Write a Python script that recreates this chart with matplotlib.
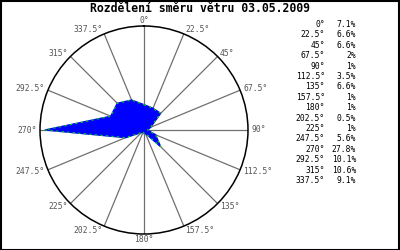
import numpy as np
import matplotlib
matplotlib.use("Agg")
import matplotlib.pyplot as plt
from matplotlib.patches import Rectangle

directions = [0, 22.5, 45, 67.5, 90, 112.5, 135, 157.5,
              180, 202.5, 225, 247.5, 270, 292.5, 315, 337.5]
dir_labels = ["0°", "22.5°", "45°", "67.5°", "90°", "112.5°", "135°", "157.5°",
              "180°", "202.5°", "225°", "247.5°", "270°", "292.5°", "315°", "337.5°"]
freq = [7.1, 6.6, 6.6, 2, 1, 3.5, 6.6, 1, 1, 0.5, 1, 5.6, 27.8, 10.1, 10.6, 9.1]
freq_labels = ["7.1%", "6.6%", "6.6%", "2%", "1%", "3.5%", "6.6%", "1%",
               "1%", "0.5%", "1%", "5.6%", "27.8%", "10.1%", "10.6%", "9.1%"]
title = "Rozdělení směru větru 03.05.2009"

W, H = 400, 250
fig = plt.figure(figsize=(4, 2.5), dpi=100)
fig.patch.set_facecolor("white")

# polar area: center (144,130) px from top-left, radius 104 px
cx, cy, R = 144, 130, 104
ax = fig.add_axes([(cx - R) / W, (H - cy - R) / H, 2 * R / W, 2 * R / H],
                  projection="polar")
ax.set_theta_zero_location("N")
ax.set_theta_direction(-1)
rmax = max(freq) * 1.05
ax.set_ylim(0, rmax)
ax.set_yticks([])
theta = np.deg2rad(directions)
ax.set_xticks(theta)
ax.set_xticklabels([])
ax.tick_params(length=0)
ax.grid(True, color="#707070", linewidth=0.9)
ax.yaxis.grid(False)
ax.spines["polar"].set_color("black")
ax.spines["polar"].set_linewidth(1.1)

tt = np.append(theta, theta[0])
rr = np.append(freq, freq[0])
ax.fill(tt, rr, color="#0000ff", zorder=3)
ax.plot(tt, rr, color="#00dd00", linestyle=(0, (2, 3)), linewidth=0.8, zorder=4)

mono = "DejaVu Sans Mono"
for th, lab in zip(theta, dir_labels):
    s, c = np.sin(th), np.cos(th)
    if abs(s) < 1e-6:
        ha = "center"
        va = "bottom" if c > 0 else "top"
        off = (0, 0.8 * c)
    else:
        ha = "left" if s > 0 else "right"
        va = "center"
        off = (2.5 * s, 3.5 * c)
    ax.annotate(lab, xy=(th, rmax), xytext=off,
                textcoords="offset points", ha=ha, va=va,
                fontsize=5.8, family=mono, color="#555555",
                annotation_clip=False)

fig.text(0.5, 1 - 9 / H, title, ha="center", va="center",
         fontsize=8.3, family=mono, fontweight="bold", color="black")

y0, dy = 24.5, 10.4
for i, (lab, val) in enumerate(zip(dir_labels, freq_labels)):
    y = 1 - (y0 + i * dy) / H
    fig.text(325 / W, y, lab, ha="right", va="center",
             fontsize=5.8, family=mono, color="black")
    fig.text(356 / W, y, val, ha="right", va="center",
             fontsize=5.8, family=mono, color="black")

fig.patches.append(Rectangle((0.5 / W, 0.5 / H), 1 - 1.5 / W, 1 - 1.5 / H,
                             transform=fig.transFigure, fill=False,
                             edgecolor="black", linewidth=1.5))

fig.savefig("out.png", dpi=100)
